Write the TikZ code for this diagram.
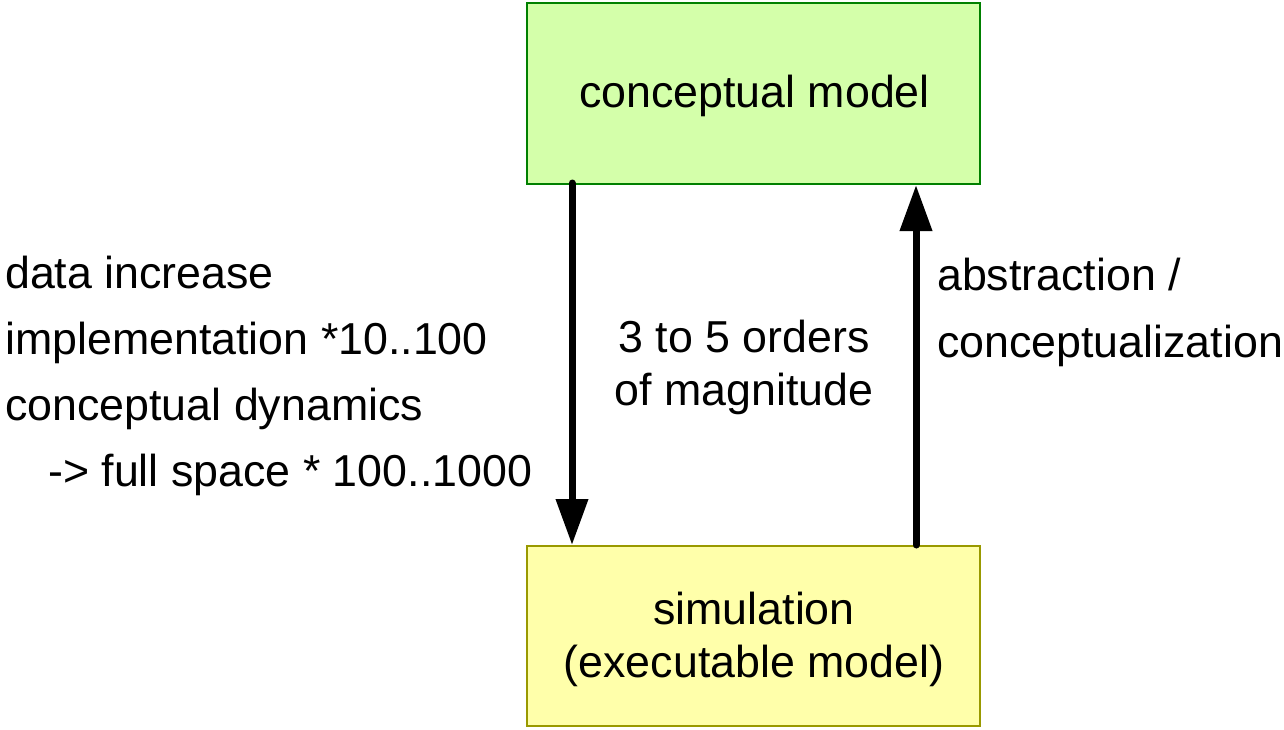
\documentclass[tikz,border=0pt]{standalone}
\usepackage{fontspec}
\setmainfont{Liberation Sans}
\usetikzlibrary{arrows.meta}
\definecolor{topfill}{HTML}{D4FFAA}
\definecolor{topdraw}{HTML}{008000}
\definecolor{botfill}{HTML}{FFFFAA}
\definecolor{botdraw}{HTML}{999900}
\begin{document}
\begin{tikzpicture}[x=1pt,y=-1pt,
  every node/.style={font=\fontsize{44.75}{53}\selectfont, inner sep=0pt},
  box/.style={rectangle, line width=2pt, minimum width=453pt, minimum height=181pt},
  txt/.style={anchor=base west},
  ctxt/.style={anchor=base},
  arr/.style={line width=7pt, line cap=round, -{Triangle[length=46pt,width=31pt]}}]
\useasboundingbox (0,0) rectangle (1284,729);
\node[box, fill=topfill, draw=topdraw] (top) at (753.5,93.5) {};
\node[box, fill=botfill, draw=botdraw, minimum height=180pt] (bot) at (753.5,636) {};
\node[ctxt] (toptext) at (754.5,107) {conceptual model};
\node[ctxt] (bot1) at (754,624) {simulation};
\node[ctxt] (bot2) at (754,677) {(executable model)};
\node[ctxt] (mid1) at (744,352) {3 to 5 orders};
\node[ctxt] (mid2) at (744,405) {of magnitude};
\node[txt] (l1) at (5,288) {data increase};
\node[txt] (l2) at (5,354) {implementation *10..100};
\node[txt] (l3) at (5,420) {conceptual dynamics};
\node[txt] (l4) at (48,486) {-> full space * 100..1000};
\node[txt] (r1) at (937,290) {abstraction /};
\node[txt] (r2) at (937,357) {conceptualization};
\draw[arr] ([xshift=-181.5pt,yshift=2pt]top.south) -- ([xshift=-181.5pt]bot.north);
\draw[arr] ([xshift=162.5pt]bot.north) -- ([xshift=162.5pt]top.south);
\end{tikzpicture}
\end{document}
